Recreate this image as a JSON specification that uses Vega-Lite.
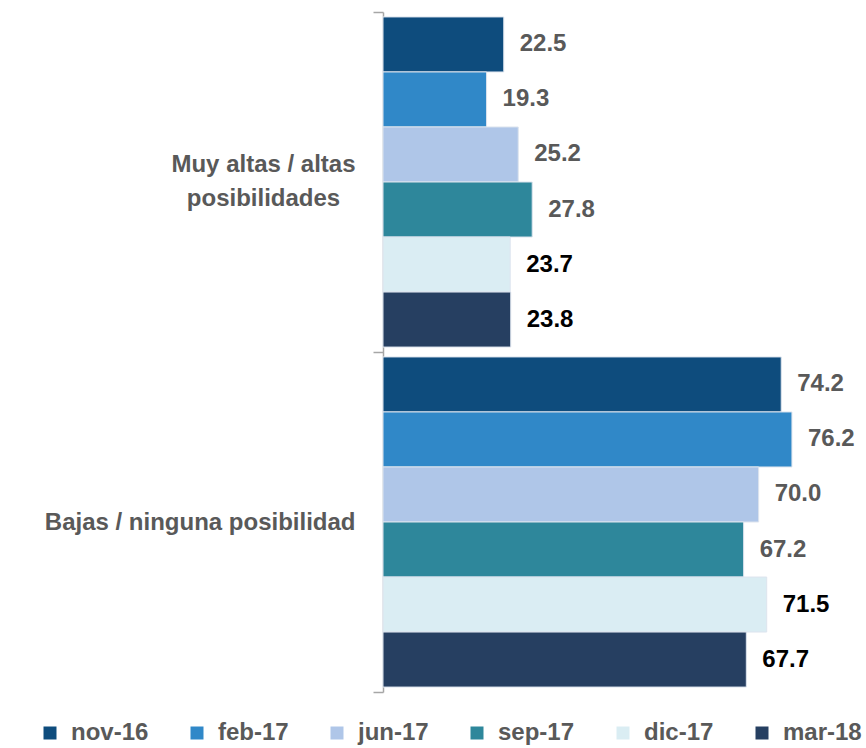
{
  "$schema": "https://vega.github.io/schema/vega-lite/v6.json",
  "autosize": {"type": "none"},
  "padding": {"left": 383, "top": 12, "right": 0, "bottom": 56},
  "width": 483,
  "height": 680,
  "background": "white",
  "config": {
    "view": {"stroke": null},
    "font": "Liberation Sans"
  },
  "data": {
    "values": [
      {"cat": "Muy altas / altas posibilidades", "period": "nov-16", "value": 22.5},
      {"cat": "Muy altas / altas posibilidades", "period": "feb-17", "value": 19.3},
      {"cat": "Muy altas / altas posibilidades", "period": "jun-17", "value": 25.2},
      {"cat": "Muy altas / altas posibilidades", "period": "sep-17", "value": 27.8},
      {"cat": "Muy altas / altas posibilidades", "period": "dic-17", "value": 23.7},
      {"cat": "Muy altas / altas posibilidades", "period": "mar-18", "value": 23.8},
      {"cat": "Bajas / ninguna posibilidad", "period": "nov-16", "value": 74.2},
      {"cat": "Bajas / ninguna posibilidad", "period": "feb-17", "value": 76.2},
      {"cat": "Bajas / ninguna posibilidad", "period": "jun-17", "value": 70.0},
      {"cat": "Bajas / ninguna posibilidad", "period": "sep-17", "value": 67.2},
      {"cat": "Bajas / ninguna posibilidad", "period": "dic-17", "value": 71.5},
      {"cat": "Bajas / ninguna posibilidad", "period": "mar-18", "value": 67.7}
    ]
  },
  "encoding": {
    "y": {
      "field": "cat",
      "type": "nominal",
      "sort": ["Muy altas / altas posibilidades", "Bajas / ninguna posibilidad"],
      "scale": {"paddingInner": 0, "paddingOuter": 0},
      "axis": {
        "title": null,
        "tickBand": "extent",
        "tickSize": 10,
        "tickColor": "#A6A6A6",
        "tickWidth": 1.5,
        "domainColor": "#A6A6A6",
        "domainWidth": 1.5,
        "labelFont": "Liberation Sans",
        "labelFontSize": 24,
        "labelFontWeight": "bold",
        "labelColor": "#595959",
        "labelPadding": {"condition": {"test": "datum.value == 'Muy altas / altas posibilidades'", "value": 110}, "value": 18},
        "labelAlign": {"condition": {"test": "datum.value == 'Muy altas / altas posibilidades'", "value": "center"}, "value": "right"},
        "labelLimit": 400,
        "labelLineHeight": 34,
        "labelOffset": {"condition": {"test": "datum.value == 'Muy altas / altas posibilidades'", "value": -18}, "value": 0},
        "labelExpr": "datum.label == 'Muy altas / altas posibilidades' ? ['Muy altas / altas', 'posibilidades'] : datum.label"
      }
    },
    "yOffset": {
      "field": "period",
      "type": "nominal",
      "sort": ["nov-16", "feb-17", "jun-17", "sep-17", "dic-17", "mar-18"],
      "scale": {"paddingInner": 0, "paddingOuter": 0.09}
    },
    "x": {
      "field": "value",
      "type": "quantitative",
      "scale": {"domain": [0, 90]},
      "axis": null
    }
  },
  "layer": [
    {
      "mark": {"type": "bar", "stroke": "#DDE4EE", "strokeWidth": 1},
      "encoding": {
        "color": {
          "field": "period",
          "type": "nominal",
          "sort": ["nov-16", "feb-17", "jun-17", "sep-17", "dic-17", "mar-18"],
          "scale": {
            "domain": ["nov-16", "feb-17", "jun-17", "sep-17", "dic-17", "mar-18"],
            "range": ["#0E4C7D", "#3088C8", "#AFC6E8", "#2E879B", "#DAEDF3", "#263F61"]
          },
          "legend": {
            "title": null,
            "orient": "none",
            "direction": "horizontal",
            "columns": 6,
            "legendX": -345,
            "legendY": 709,
            "symbolType": "square",
            "symbolSize": 169,
            "symbolStrokeWidth": 0,
            "symbolOpacity": 1,
            "labelFont": "Liberation Sans",
            "labelFontSize": 24,
            "labelFontWeight": "bold",
            "labelColor": "#595959",
            "labelOffset": 9,
            "columnPadding": 36
          }
        }
      }
    },
    {
      "mark": {"type": "text", "align": "left", "baseline": "middle", "dx": 16, "fontSize": 24, "fontWeight": "bold", "font": "Liberation Sans"},
      "encoding": {
        "text": {"field": "value", "type": "quantitative", "format": ".1f"},
        "color": {
          "condition": {"test": "datum.period == 'dic-17' || datum.period == 'mar-18'", "value": "#000000"},
          "value": "#595959"
        }
      }
    }
  ]
}
